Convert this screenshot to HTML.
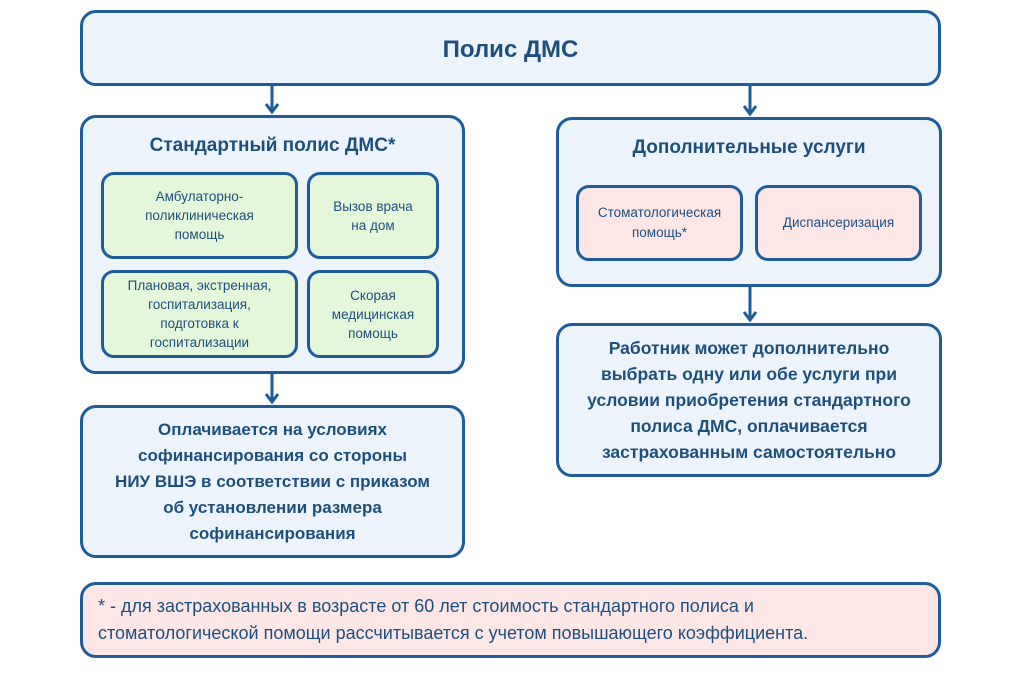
<!DOCTYPE html>
<html><head><meta charset="utf-8"><style>
body{margin:0;width:1024px;height:684px;background:#fff;font-family:"Liberation Sans",sans-serif;position:relative;overflow:hidden;color:#1d4f7c}
.b{position:absolute;box-sizing:border-box;border:3px solid #1e5d9a;border-radius:16px;background:#edf3fb;display:flex;align-items:center;justify-content:center;text-align:center}
.g{background:#e4f7da;font-size:13.5px;line-height:19px;border-radius:13px}
.p{background:#fde6e6;font-size:13.5px;line-height:20px;border-radius:13px}
.t{position:absolute;left:0;right:0;text-align:center;font-weight:bold;font-size:19px}
.big{font-size:17px;line-height:26px;font-weight:bold}
</style></head><body>
<svg style="position:absolute;left:0;top:0" width="1024" height="684">
<g stroke="#1e5d9a" stroke-width="3" fill="none">
<line x1="272" y1="85" x2="272" y2="112"/><polyline points="266,104 272,112 278,104"/>
<line x1="750" y1="85" x2="750" y2="114"/><polyline points="744,106 750,114 756,106"/>
<line x1="272" y1="373" x2="272" y2="402"/><polyline points="266,394 272,402 278,394"/>
<line x1="750" y1="286" x2="750" y2="320"/><polyline points="744,312 750,320 756,312"/>
</g></svg>
<div class="b" style="left:80px;top:10px;width:861px;height:76px;font-size:24px;font-weight:bold;padding-top:4px">Полис ДМС</div>
<div class="b" style="left:80px;top:115px;width:385px;height:259px;display:block">
<div class="t" style="top:17px">Стандартный полис ДМС*</div></div>
<div class="b g" style="left:101px;top:172px;width:197px;height:87px">Амбулаторно-<br>поликлиническая<br>помощь</div>
<div class="b g" style="left:307px;top:172px;width:132px;height:87px">Вызов врача<br>на дом</div>
<div class="b g" style="left:101px;top:270px;width:197px;height:88px">Плановая, экстренная,<br>госпитализация,<br>подготовка к<br>госпитализации</div>
<div class="b g" style="left:307px;top:270px;width:132px;height:88px">Скорая<br>медицинская<br>помощь</div>
<div class="b big" style="left:80px;top:405px;width:385px;height:153px;font-weight:bold">Оплачивается на условиях<br>софинансирования со стороны<br>НИУ ВШЭ в соответствии с приказом<br>об установлении размера<br>софинансирования</div>
<div class="b" style="left:556px;top:117px;width:386px;height:170px;display:block">
<div class="t" style="top:17px">Дополнительные услуги</div></div>
<div class="b p" style="left:576px;top:185px;width:167px;height:76px">Стоматологическая<br>помощь*</div>
<div class="b p" style="left:755px;top:185px;width:167px;height:76px">Диспансеризация</div>
<div class="b big" style="left:556px;top:323px;width:386px;height:154px;font-size:17.5px">Работник может дополнительно<br>выбрать одну или обе услуги при<br>условии приобретения стандартного<br>полиса ДМС, оплачивается<br>застрахованным самостоятельно</div>
<div class="b" style="left:80px;top:582px;width:861px;height:76px;background:#fde6e6;justify-content:flex-start;text-align:left;padding-left:15px;font-size:18px;line-height:27px">* - для застрахованных в возрасте от 60 лет стоимость стандартного полиса и<br>стоматологической помощи рассчитывается с учетом повышающего коэффициента.</div>
</body></html>
